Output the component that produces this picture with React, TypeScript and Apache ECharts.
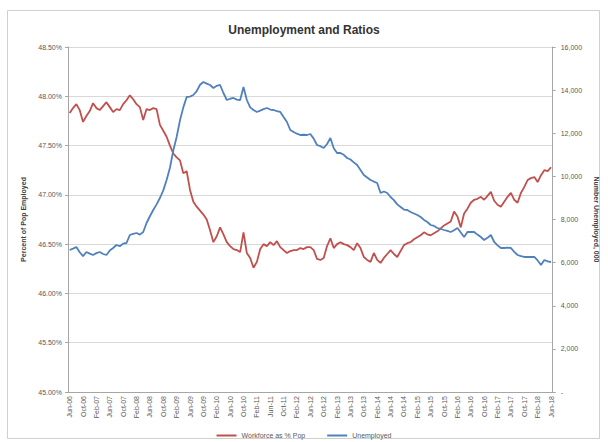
import React, { useEffect, useRef } from "react";
import * as echarts from "echarts";

const monthNames = ["Jan", "Feb", "Mar", "Apr", "May", "Jun", "Jul", "Aug", "Sep", "Oct", "Nov", "Dec"];
// Monthly categories Jun-06 .. Jun-18
const categories: string[] = [];
for (let k = 0; k < 145; k++) {
  const m = (5 + k) % 12;
  const y = 6 + Math.floor((5 + k) / 12);
  categories.push(`${monthNames[m]}-${String(y).padStart(2, "0")}`);
}

const workforcePct = [
  47.83, 47.88, 47.92, 47.86, 47.74, 47.8, 47.85, 47.93, 47.88, 47.86,
  47.9, 47.94, 47.89, 47.84, 47.87, 47.86, 47.92, 47.96, 48.01, 47.97,
  47.92, 47.89, 47.76, 47.87, 47.86, 47.88, 47.87, 47.71, 47.65, 47.59,
  47.5, 47.42, 47.38, 47.35, 47.22, 47.24, 47.05, 46.93, 46.88, 46.84,
  46.8, 46.75, 46.64, 46.52, 46.58, 46.67, 46.6, 46.52, 46.48, 46.45,
  46.44, 46.42, 46.62, 46.41, 46.36, 46.26, 46.32, 46.45, 46.5, 46.48,
  46.52, 46.49, 46.53, 46.47, 46.44, 46.41, 46.43, 46.44, 46.44, 46.46,
  46.45, 46.47, 46.47, 46.44, 46.35, 46.34, 46.36, 46.48, 46.56, 46.46,
  46.5, 46.52, 46.5, 46.49, 46.47, 46.44, 46.51, 46.46, 46.37, 46.34,
  46.32, 46.41, 46.34, 46.31, 46.36, 46.4, 46.44, 46.4, 46.37, 46.43,
  46.49, 46.51, 46.52, 46.55, 46.57, 46.59, 46.62, 46.6, 46.59, 46.61,
  46.63, 46.66, 46.69, 46.71, 46.73, 46.83, 46.78, 46.67, 46.81, 46.86,
  46.92, 46.95, 46.96, 46.98, 46.95, 46.99, 47.03, 46.94, 46.9, 46.88,
  46.93, 46.98, 47.02, 46.95, 46.92, 47.02, 47.08, 47.15, 47.17, 47.18,
  47.13, 47.2, 47.25, 47.24, 47.28,
];

const unemployed = [
  6585, 6650, 6725, 6480, 6300, 6493, 6420, 6354, 6440, 6493,
  6400, 6354, 6560, 6678, 6817, 6760, 6880, 6910, 7281, 7330,
  7374, 7300, 7420, 7838, 8150, 8441, 8700, 8997, 9350, 9832,
  10400, 11200, 11826, 12600, 13200, 13681, 13700, 13774, 13950, 14250,
  14377, 14300, 14238, 14099, 14200, 14238, 13867, 13542, 13600, 13635,
  13560, 13542, 14145, 13542, 13200, 13078, 12986, 13050, 13120, 13171,
  13100, 13078, 13030, 12986, 12750, 12522, 12150, 12058, 11980, 11919,
  11930, 11919, 11965, 11750, 11455, 11400, 11316, 11500, 11780, 11300,
  11084, 11084, 11000, 10852, 10780, 10650, 10527, 10300, 10064, 9950,
  9832, 9760, 9693, 9229, 9300, 9229, 9043, 8900, 8700, 8580,
  8460, 8441, 8348, 8280, 8209, 8116, 7980, 7884, 7745, 7700,
  7606, 7560, 7513, 7470, 7420, 7500, 7606, 7400, 7188, 7420,
  7420, 7420, 7300, 7188, 7049, 7150, 7281, 6957, 6800, 6678,
  6678, 6700, 6678, 6500, 6354, 6300, 6261, 6261, 6270, 6261,
  6100, 5890, 6122, 6060, 6029,
];

const seriesNames = ["Workforce as % Pop", "Unemployed"];

export default function App() {
  const ref = useRef<HTMLDivElement>(null);
  useEffect(() => {
    if (!ref.current) return;
    const chart = echarts.init(ref.current, null, { renderer: "svg" });
    const font = "'Liberation Sans', Arial, sans-serif";
    const labelColor = "#595959";
    chart.setOption({
      animation: false,
      backgroundColor: "#ffffff",
      textStyle: { fontFamily: font },
      graphic: [
        {
          type: "rect",
          shape: { x: 7.5, y: 10.5, width: 592, height: 428 },
          style: { fill: "none", stroke: "#d0d0d0", lineWidth: 1 },
          silent: true,
          z: -1,
        },
      ],
      title: {
        text: "Unemployment and Ratios",
        left: "center",
        top: 19,
        textStyle: { fontSize: 12, fontWeight: "bold", color: "#333333", fontFamily: font },
      },
      legend: {
        bottom: -2,
        left: "center",
        itemWidth: 20,
        itemHeight: 2,
        itemGap: 22,
        icon: "rect",
        textStyle: { fontSize: 7, color: labelColor },
        data: seriesNames,
      },
      grid: { left: 68, right: 54, top: 47, bottom: 50 },
      xAxis: {
        type: "category",
        data: categories,
        boundaryGap: true,
        axisLine: { lineStyle: { color: "#a6a6a6" } },
        axisTick: { interval: 3, alignWithLabel: true, length: 3, lineStyle: { color: "#a6a6a6" } },
        axisLabel: { interval: 3, rotate: 90, fontSize: 7, color: labelColor, margin: 4 },
      },
      yAxis: [
        {
          type: "value",
          min: 45,
          max: 48.5,
          interval: 0.5,
          name: "Percent of Pop Employed",
          nameLocation: "middle",
          nameRotate: 90,
          nameGap: 38,
          nameTextStyle: { fontSize: 7, fontWeight: "bold", color: "#404040" },
          axisLine: { show: true, lineStyle: { color: "#a6a6a6" } },
          axisTick: { show: true, length: 3, lineStyle: { color: "#a6a6a6" } },
          axisLabel: {
            fontSize: 7,
            color: labelColor,
            margin: 6,
            formatter: (v: number) => v.toFixed(2) + "%",
          },
          splitLine: { show: true, lineStyle: { color: "#d9d9d9", width: 1 } },
        },
        {
          type: "value",
          min: 0,
          max: 16000,
          interval: 2000,
          position: "right",
          name: "Number Unemployed, 000",
          nameLocation: "middle",
          nameRotate: -90,
          nameGap: 40,
          nameTextStyle: { fontSize: 7, fontWeight: "bold", color: "#404040" },
          axisLine: { show: true, lineStyle: { color: "#a6a6a6" } },
          axisTick: { show: true, length: 3, lineStyle: { color: "#a6a6a6" } },
          axisLabel: {
            fontSize: 7,
            color: labelColor,
            margin: 8,
            formatter: (v: number) => (v === 0 ? "-" : v.toLocaleString("en-US")),
          },
          splitLine: { show: false },
        },
      ],
      series: [
        {
          name: seriesNames[0],
          type: "line",
          yAxisIndex: 0,
          data: workforcePct,
          showSymbol: false,
          lineStyle: { color: "#c0504d", width: 1.8 },
          itemStyle: { color: "#c0504d" },
        },
        {
          name: seriesNames[1],
          type: "line",
          yAxisIndex: 1,
          data: unemployed,
          showSymbol: false,
          lineStyle: { color: "#4f81bd", width: 1.8 },
          itemStyle: { color: "#4f81bd" },
        },
      ],
    });
    return () => chart.dispose();
  }, []);
  return <div ref={ref} style={{ width: 608, height: 442, position: "absolute", left: 0, top: 0 }} />;
}
